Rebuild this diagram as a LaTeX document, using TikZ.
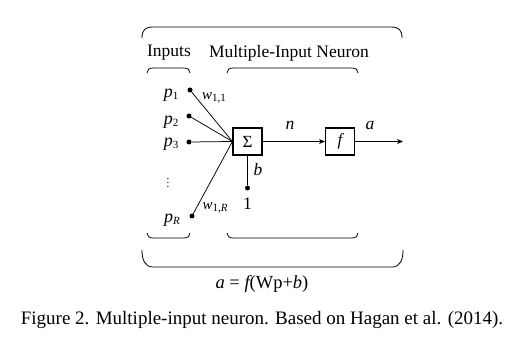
\documentclass[tikz,border=0pt]{standalone}
\usepackage{fontspec}
\setmainfont{Liberation Serif}
\usetikzlibrary{arrows.meta}
\newcommand\mysub[2]{#1{\fontsize{11}{11}\selectfont\upshape\raisebox{-2.5pt}{#2}}}
\begin{document}
\begin{tikzpicture}[x=1pt,y=-1pt,
  dot/.style={circle,fill=black,inner sep=0pt,minimum size=5pt},
  box/.style={draw,line width=1.1pt,minimum width=29pt,minimum height=27pt,inner sep=0pt,font=\fontsize{17}{18}\selectfont},
  lbl/.style={inner sep=0pt,font=\fontsize{17.5}{19}\selectfont},
  brc/.style={line width=0.8pt},
  wire/.style={line width=0.75pt},
  arr/.style={wire,-{Stealth[length=6pt,width=5pt]}}]
\useasboundingbox (0,0) rectangle (523,350);
% braces
\draw[brc] (142,38) .. controls (142,30) and (145,27) .. (153,27) -- (391,27) .. controls (399,27) and (402,30) .. (402,38);
\draw[brc] (147,73) .. controls (147,70) and (149,68) .. (153,68) -- (184,68) .. controls (188,68) and (190,70) .. (190,73);
\draw[brc] (227,73) .. controls (227,70) and (229,68) .. (233,68) -- (352,68) .. controls (356,68) and (358,70) .. (358,73);
\draw[brc] (147,233) .. controls (147,236) and (149,238) .. (153,238) -- (184,238) .. controls (188,238) and (190,236) .. (190,233);
\draw[brc] (227,233) .. controls (227,236) and (229,238) .. (233,238) -- (352,238) .. controls (356,238) and (358,236) .. (358,233);
\draw[brc] (142,250) .. controls (142,260) and (145,267) .. (153,267) -- (392,267) .. controls (400,267) and (403,260) .. (403,250);
% titles
\node[lbl] (tin) at (169,53) {Inputs};
\node[lbl] (tmn) at (289,53) {Multiple-Input Neuron};
% boxes
\node[box] (sum) at (247.5,141.5) {Σ};
\node[box] (f) at (340,141.5) {\itshape f};
% input dots
\node[dot] (d1) at (190,90) {};
\node[dot] (d2) at (189,116) {};
\node[dot] (d3) at (189,142) {};
\node[dot] (dR) at (192,216) {};
\node[dot] (d1b) at (247.5,188) {};
\coordinate (out) at (403,141.5);
% input labels
\node[lbl,font=\fontsize{18}{19}\selectfont] (p1) at (171,95) {\mysub{\itshape p}{1}};
\node[lbl,font=\fontsize{18}{19}\selectfont] (p2) at (171,122) {\mysub{\itshape p}{2}};
\node[lbl,font=\fontsize{18}{19}\selectfont] (p3) at (171,144) {\mysub{\itshape p}{3}};
\node[lbl,font=\fontsize{18}{19}\selectfont] (pR) at (172,220) {\mysub{\itshape p}{\itshape R}};
\node[inner sep=0pt,font=\fontsize{11}{11}\selectfont] (vd) at (168,180) {$\vdots$};
\node[lbl,font=\fontsize{15}{16}\selectfont] (w11) at (214,98) {\mysub{\itshape w}{1,1}};
\node[lbl,font=\fontsize{15}{16}\selectfont] (w1R) at (215,208) {\mysub{\itshape w}{1,\itshape R}};
\node[lbl] (bl) at (258,170) {\itshape b};
\node[lbl] (one) at (247.5,204) {1};
\node[lbl] (nl) at (290,125) {\itshape n};
\node[lbl] (al) at (370,125) {\itshape a};
% wires
\draw[wire] (d1) -- (sum.west);
\draw[wire] (d2) -- (sum.west);
\draw[wire] (d3) -- (sum.west);
\draw[wire] (dR) -- (sum.west);
\draw[wire] (d1b) -- (sum.south);
\draw[arr] (sum) -- (f);
\draw[arr] (f) -- (out);
% equation and caption
\node[lbl,font=\fontsize{18.5}{20}\selectfont] (eq) at (262,284) {\itshape a\upshape\ = \itshape f\upshape(Wp+\itshape b\upshape)};
\node[lbl,font=\fontsize{19}{21}\selectfont] (cap) at (262,320) {Figure 2. Multiple-input neuron. Based on Hagan et al. (2014).};
\end{tikzpicture}
\end{document}
